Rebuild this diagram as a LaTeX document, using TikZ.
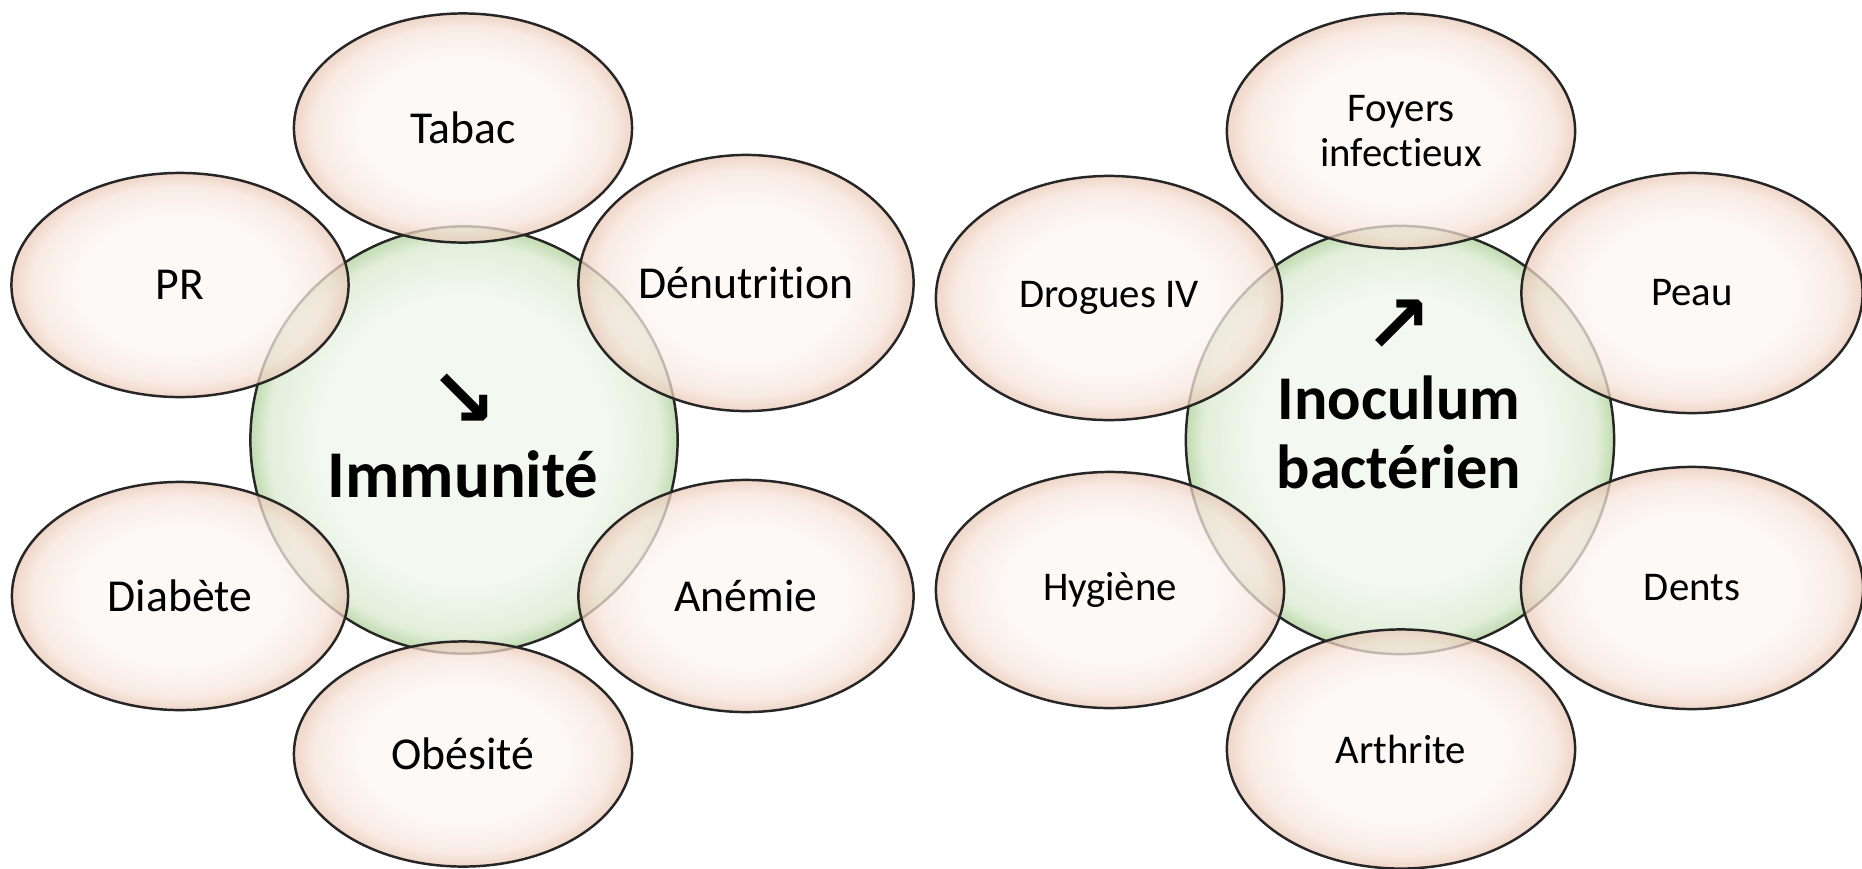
\documentclass[tikz,border=0pt]{standalone}
\usepackage{fontspec}
\setmainfont[Ligatures=NoCommon]{Carlito}
\newfontfamily\arrowfont{DejaVu Sans}
\usepackage{tikz}
\usetikzlibrary{shapes,shapes.geometric,positioning}
\usepackage{xcolor}

\definecolor{peachin}{RGB}{252,247,244}
\definecolor{peachmid}{RGB}{246,228,218}
\definecolor{peachrim}{RGB}{234,200,182}
\definecolor{greenin}{RGB}{243,248,240}
\definecolor{greenmid}{RGB}{226,238,218}
\definecolor{greenrim}{RGB}{192,220,176}

\pgfdeclareradialshading{peachbubble}{\pgfpoint{0bp}{0bp}}{color(0bp)=(peachin); color(15bp)=(peachin); color(22bp)=(peachmid); color(25bp)=(peachrim); color(50bp)=(peachrim)}
\pgfdeclareradialshading{greenbubble}{\pgfpoint{0bp}{0bp}}{color(0bp)=(greenin); color(17bp)=(greenin); color(23bp)=(greenmid); color(25bp)=(greenrim); color(50bp)=(greenrim)}

\begin{document}
\begin{tikzpicture}[x=0.01cm,y=-0.01cm,
	  hub/.style={circle,draw=black!85,line width=0.7pt,shading=greenbubble,inner sep=0pt,minimum size=4.27cm},
	  factor/.style={ellipse,draw=black!85,line width=0.7pt,shading=peachbubble,fill opacity=0.75,text opacity=1,inner sep=0pt,font=\fontsize{13}{15}\selectfont},
	  factorsmall/.style={factor,font=\fontsize{11.6}{12.8}\selectfont,align=center},
	  hubtext/.style={inner sep=0pt,font=\bfseries\fontsize{19}{22}\selectfont},
	  trend/.style={inner sep=0pt,font=\arrowfont\bfseries\fontsize{23}{26}\selectfont}]

	  \useasboundingbox (0,0) rectangle (1862,869);

	  % left: immunity
	  \node[hub] (hubL) at (464,440) {};
	  \node[trend] (arrowL) at (463,400) {↘};
	  \node[hubtext,anchor=base] (immunite) at (463,497) {Immunité};

	  \node[factor,minimum width=3.38cm,minimum height=2.29cm] (tabac) at (463,128) {Tabac};
	  \node[factor,minimum width=3.37cm,minimum height=2.24cm] (pr) at (180,285) {PR};
	  \node[factor,minimum width=3.35cm,minimum height=2.56cm] (denutrition) at (746,283) {Dénutrition};
	  \node[factor,minimum width=3.36cm,minimum height=2.28cm] (diabete) at (180,596) {Diabète};
	  \node[factor,minimum width=3.35cm,minimum height=2.32cm] (anemie) at (746,596) {Anémie};
	  \node[factor,minimum width=3.38cm,minimum height=2.25cm] (obesite) at (463,754) {Obésité};

	  % right: bacterial inoculum
	  \node[hub,minimum size=4.28cm] (hubR) at (1400,440) {};
	  \node[trend] (arrowR) at (1398,326) {↗};
	  \node[hubtext,anchor=base,font=\bfseries\fontsize{17.7}{20}\selectfont] (inoculum) at (1399,419) {Inoculum};
	  \node[hubtext,anchor=base,font=\bfseries\fontsize{17.7}{20}\selectfont] (bacterien) at (1399,488) {bactérien};

	  \node[factorsmall,minimum width=3.48cm,minimum height=2.35cm] (foyers) at (1401,131) {Foyers\\infectieux};
	  \node[factorsmall,minimum width=3.46cm,minimum height=2.44cm] (drogues) at (1109,298) {Drogues IV};
	  \node[factorsmall,minimum width=3.41cm,minimum height=2.40cm] (peau) at (1692,293) {Peau};
	  \node[factorsmall,minimum width=3.48cm,minimum height=2.36cm] (hygiene) at (1110,590) {Hygiène};
	  \node[factorsmall,minimum width=3.42cm,minimum height=2.42cm] (dents) at (1692,588) {Dents};
	  \node[factorsmall,minimum width=3.48cm,minimum height=2.39cm] (arthrite) at (1401,749) {Arthrite};

\end{tikzpicture}
\end{document}
